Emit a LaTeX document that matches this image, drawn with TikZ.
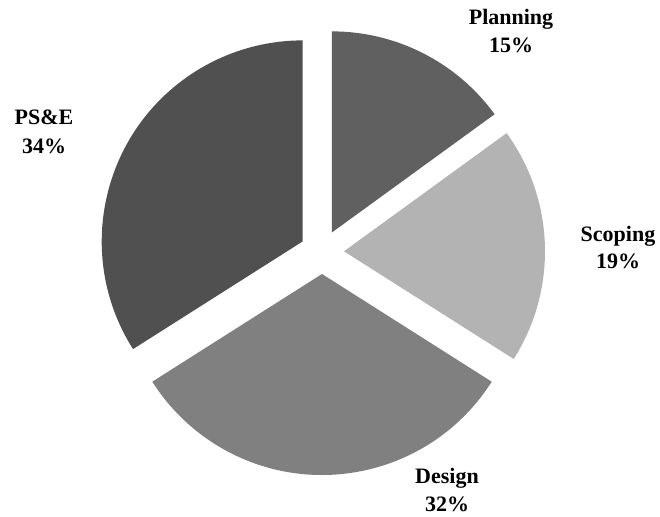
\documentclass[tikz,border=0pt]{standalone}
\usepackage{fontspec}
\setmainfont{Liberation Serif}
\usetikzlibrary{calc}
\definecolor{cPlan}{RGB}{96,96,96}
\definecolor{cScope}{RGB}{179,179,179}
\definecolor{cDesign}{RGB}{128,128,128}
\definecolor{cPSE}{RGB}{80,80,80}
\tikzset{
  lbl/.style={anchor=base, inner sep=0pt, font=\fontsize{22}{28}\selectfont\bfseries, text=black},
}
\begin{document}
\begin{tikzpicture}[x=1pt,y=1pt]
\useasboundingbox (0,0) rectangle (660,516);
\coordinate (C) at (322,264);
\def\R{201}
\def\d{22}
% Planning 15%: 90 -> 36
\coordinate (aPlan) at ($(C)+(63:\d)$);
\fill[cPlan] (aPlan) -- ++(90:\R) arc[start angle=90, end angle=36, radius=\R] -- cycle;
% Scoping 19%: 36 -> -32.4
\coordinate (aScope) at ($(C)+(1.8:\d)$);
\fill[cScope] (aScope) -- ++(36:\R) arc[start angle=36, end angle=-32.4, radius=\R] -- cycle;
% Design 32%: -32.4 -> -147.6
\coordinate (aDesign) at ($(C)+(-90:\d)$);
\fill[cDesign] (aDesign) -- ++(-32.4:\R) arc[start angle=-32.4, end angle=-147.6, radius=\R] -- cycle;
% PS&E 34%: -147.6 -> -270
\coordinate (aPSE) at ($(C)+(151.2:\d)$);
\fill[cPSE] (aPSE) -- ++(-147.6:\R) arc[start angle=-147.6, end angle=-270, radius=\R] -- cycle;
% labels
\node[lbl] (tPlan) at (511,491) {Planning};
\node[lbl] (pPlan) at (511,463) {15\%};
\node[lbl] (tScope) at (618,274) {Scoping};
\node[lbl] (pScope) at (618,247) {19\%};
\node[lbl] (tDesign) at (447,33) {Design};
\node[lbl] (pDesign) at (447,4.5) {32\%};
\node[lbl] (tPSE) at (44,391) {PS\&E};
\node[lbl] (pPSE) at (44,362) {34\%};
\end{tikzpicture}
\end{document}
